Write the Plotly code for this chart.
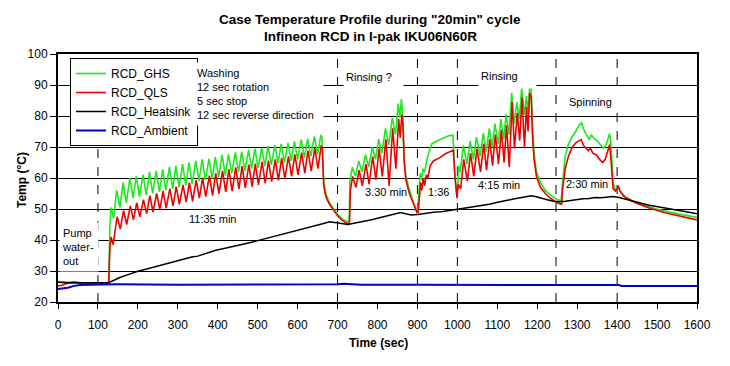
import plotly.graph_objects as go

# ---------------- data ----------------
ghs_t = [0, 20, 50, 100, 127, 130, 133, 139, 147, 155, 163, 171, 180, 188, 196, 204, 213, 221, 229, 237, 246, 254, 262,
         270, 279, 287, 295, 303, 312, 320, 328, 336, 345, 353, 361, 369, 378, 386, 394, 402, 411, 419, 427, 435, 444,
         452, 460, 468, 477, 485, 493, 501, 510, 518, 526, 534, 543, 551, 559, 567, 576, 584, 592, 600, 609, 617, 625,
         633, 642, 650, 658, 661, 665, 668, 672, 680, 690, 700, 712, 725, 729, 731, 737, 745, 753, 761, 770, 778, 787,
         795, 803, 811, 820, 828, 837, 845, 852, 856, 860, 863, 866, 870, 878, 888, 898, 901, 904, 907, 910, 914, 918,
         923, 929, 936, 950, 965, 978, 989, 991, 994, 998, 1001, 1003, 1007, 1015, 1024, 1032, 1040, 1048, 1057, 1065,
         1072, 1080, 1087, 1094, 1102, 1109, 1116, 1122, 1129, 1136, 1142, 1149, 1155, 1161, 1168, 1173, 1177, 1181,
         1185, 1188, 1192, 1198, 1208, 1220, 1235, 1250, 1260, 1263, 1266, 1270, 1277, 1286, 1296, 1305, 1311, 1317,
         1323, 1330, 1336, 1342, 1350, 1358, 1366, 1372, 1377, 1381, 1384, 1387, 1390, 1395, 1400, 1404, 1410, 1420,
         1440, 1460, 1500, 1550, 1600]
ghs_v = [26.6, 26.4, 26.1, 26.0, 26.2, 45.0, 50.5, 47.0, 56.0, 50.5, 58.5, 52.0, 60.0, 53.5, 60.5, 54.0, 61.0, 54.5, 62.0,
         55.0, 62.3, 55.5, 62.8, 56.0, 63.5, 56.5, 63.8, 57.0, 64.5, 57.5, 65.0, 58.0, 65.5, 59.0, 66.0, 59.3, 66.2, 59.8,
         66.8, 60.2, 67.5, 60.8, 67.6, 61.5, 68.3, 62.0, 68.5, 62.2, 69.0, 63.0, 69.5, 63.3, 69.8, 63.8, 70.3, 64.2, 70.6,
         64.8, 71.0, 65.0, 71.3, 65.5, 71.8, 66.0, 72.4, 66.5, 72.6, 67.0, 73.4, 67.6, 73.8, 73.0, 60.0, 57.0, 54.5, 52.0,
         50.0, 48.3, 46.8, 45.9, 45.6, 59.0, 63.5, 60.5, 65.5, 62.0, 67.5, 63.5, 70.0, 66.0, 72.5, 68.0, 76.0, 70.5, 79.5,
         74.0, 84.0, 79.5, 85.5, 80.0, 68.0, 61.5, 57.0, 53.0, 49.5, 49.8, 57.0, 61.5, 59.5, 63.0, 61.8, 65.5, 68.5, 71.0,
         72.0, 73.0, 73.6, 73.8, 68.0, 60.0, 55.5, 56.5, 64.0, 62.0, 70.5, 64.5, 72.0, 66.0, 73.2, 67.0, 74.5, 68.5, 76.0,
         70.0, 77.5, 71.0, 79.0, 72.5, 80.5, 74.0, 87.5, 77.5, 84.5, 79.0, 89.0, 80.5, 86.5, 81.0, 89.3, 88.5, 77.0, 68.0,
         62.0, 58.5, 56.0, 54.3, 53.0, 52.7, 58.0, 63.0, 67.0, 70.5, 73.0, 75.0, 77.0, 77.8, 75.5, 74.0, 72.5, 73.8, 72.8,
         72.0, 70.8, 69.6, 70.5, 72.8, 74.3, 72.0, 63.0, 58.5, 56.5, 56.3, 57.0, 55.3, 54.0, 52.6, 51.6, 49.9, 48.5, 47.3]

qls_t = [0, 10, 25, 40, 60, 100, 127, 130, 133, 138, 148, 156, 164, 172, 181, 189, 197, 205, 214, 222, 230, 238, 247, 255,
         263, 271, 280, 288, 296, 304, 313, 321, 329, 337, 346, 354, 362, 370, 379, 387, 395, 403, 412, 420, 428, 436,
         445, 453, 461, 469, 478, 486, 494, 502, 511, 519, 527, 535, 544, 552, 560, 568, 577, 585, 593, 601, 610, 618,
         626, 634, 643, 651, 659, 662, 665, 668, 672, 680, 690, 700, 712, 727, 730, 732, 738, 746, 754, 762, 771, 779,
         788, 796, 804, 812, 821, 829, 838, 846, 853, 857, 861, 864, 867, 871, 879, 889, 899, 902, 905, 908, 911, 914,
         918, 922, 926, 932, 940, 955, 970, 985, 990, 993, 996, 999, 1002, 1008, 1016, 1025, 1033, 1041, 1049, 1058,
         1066, 1073, 1081, 1088, 1095, 1103, 1110, 1117, 1123, 1130, 1137, 1143, 1150, 1156, 1162, 1168, 1173, 1177,
         1181, 1185, 1188, 1192, 1198, 1208, 1220, 1235, 1250, 1261, 1263, 1266, 1270, 1278, 1288, 1298, 1305, 1310,
         1316, 1322, 1328, 1333, 1339, 1348, 1356, 1364, 1370, 1376, 1381, 1384, 1387, 1390, 1396, 1400, 1403, 1407,
         1415, 1430, 1450, 1480, 1520, 1560, 1600]
qls_v = [25.2, 25.4, 26.1, 26.4, 26.2, 26.0, 26.1, 38.0, 41.0, 38.5, 47.5, 43.5, 49.5, 45.0, 51.0, 46.5, 52.0, 47.5, 53.0,
         48.5, 54.3, 49.0, 55.0, 49.8, 55.8, 50.3, 56.6, 51.0, 57.2, 51.5, 57.8, 52.3, 58.5, 52.5, 59.3, 53.5, 60.0, 54.0,
         60.8, 54.3, 61.5, 55.0, 62.3, 55.5, 62.8, 55.8, 63.4, 56.5, 63.8, 56.8, 64.3, 57.2, 64.6, 57.8, 65.2, 58.3, 65.6,
         58.8, 66.0, 59.2, 66.5, 59.8, 67.0, 60.5, 67.6, 61.0, 68.2, 61.6, 68.8, 62.2, 69.6, 63.0, 70.5, 69.5, 58.0, 55.5,
         53.5, 51.5, 49.6, 47.8, 46.3, 45.0, 46.0, 56.0, 60.5, 57.0, 62.5, 57.5, 64.5, 58.0, 67.0, 59.5, 69.5, 60.5, 72.5,
         57.5, 76.0, 63.0, 79.0, 73.0, 80.5, 77.0, 65.0, 59.5, 55.3, 51.8, 48.8, 49.0, 55.0, 58.5, 56.0, 60.0, 57.5, 61.0,
         60.0, 64.0, 65.5, 66.5, 67.8, 68.8, 69.0, 62.0, 56.0, 53.5, 58.0, 56.5, 66.0, 59.0, 68.0, 60.5, 69.5, 62.0, 71.0,
         62.5, 72.5, 64.0, 74.0, 64.5, 75.5, 65.0, 77.0, 63.5, 84.5, 69.5, 81.0, 72.0, 86.0, 70.0, 83.0, 75.0, 87.5, 86.0,
         74.0, 66.0, 60.5, 57.0, 55.0, 53.3, 52.0, 51.5, 56.0, 60.0, 63.0, 67.0, 70.0, 71.5, 72.0, 72.4, 70.5, 69.5, 68.8,
         69.6, 68.0, 67.5, 66.0, 65.0, 66.0, 68.5, 70.8, 67.0, 60.0, 56.5, 55.8, 56.5, 57.5, 55.8, 54.3, 53.0, 51.8, 50.3,
         48.8, 47.6, 46.5]

hs_t = [0, 20, 40, 60, 80, 100, 120, 128, 140, 155, 170, 185, 200, 215, 230, 245, 260, 275, 290, 305, 320, 335, 350, 365,
        380, 395, 410, 425, 440, 455, 470, 485, 500, 515, 530, 545, 560, 575, 590, 605, 620, 635, 650, 665, 680, 695, 710,
        725, 740, 755, 770, 785, 800, 815, 830, 845, 858, 870, 885, 900, 915, 930, 945, 960, 975, 990, 1005, 1020, 1035,
        1050, 1065, 1080, 1095, 1110, 1125, 1140, 1155, 1170, 1185, 1195, 1210, 1225, 1240, 1255, 1270, 1285, 1300, 1315,
        1330, 1345, 1360, 1375, 1390, 1405, 1420, 1435, 1450, 1465, 1480, 1495, 1510, 1525, 1540, 1555, 1570, 1585, 1600]
hs_v = [26.4, 26.2, 26.3, 26.1, 26.2, 26.1, 26.2, 26.3, 27.1, 27.9, 28.6, 29.3, 29.9, 30.4, 30.9, 31.5, 31.9, 32.5, 32.9,
        33.6, 33.9, 34.5, 34.8, 35.5, 36.0, 36.7, 37.1, 37.5, 38.0, 38.4, 38.9, 39.3, 39.8, 40.3, 40.7, 41.3, 41.6, 42.1,
        42.6, 43.1, 43.6, 44.2, 44.8, 45.3, 45.9, 45.7, 45.3, 45.0, 45.3, 45.6, 46.1, 46.5, 47.0, 47.4, 47.9, 48.5, 48.9,
        48.5, 48.1, 48.2, 48.5, 48.6, 49.0, 49.1, 49.4, 49.6, 49.9, 50.1, 50.5, 50.8, 51.2, 51.5, 52.0, 52.3, 52.8, 53.2,
        53.6, 53.9, 54.3, 54.0, 53.6, 53.0, 52.5, 52.3, 52.5, 52.8, 53.1, 53.3, 53.4, 53.7, 53.6, 53.9, 54.0, 53.7, 53.2,
        52.6, 52.1, 51.7, 51.2, 50.9, 50.5, 50.1, 49.8, 49.5, 49.2, 48.8, 48.5]

amb_t = [0, 10, 25, 40, 55, 80, 150, 300, 450, 600, 700, 715, 735, 760, 900, 1000, 1150, 1300, 1405, 1410, 1600]
amb_v = [24.2, 24.3, 24.6, 25.2, 25.5, 25.6, 25.7, 25.6, 25.6, 25.6, 25.7, 25.9, 25.8, 25.6, 25.6, 25.5, 25.5, 25.5,
         25.5, 25.2, 25.2]

series_names = ["RCD_GHS", "RCD_QLS", "RCD_Heatsink", "RCD_Ambient"]
series_colors = ["#1ee81e", "#ee0000", "#000000", "#0000d0"]
phase_bounds = [100, 700, 900, 1000, 1247, 1400]

# ---------------- figure ----------------
FONT = "Liberation Sans, Arial, sans-serif"
OFF = 8  # page body margin of the browser
W, H = 730 - OFF, 366 - OFF
ML, MR, MT, MB = 58 - OFF, 33, 54 - OFF, 64
PW, PH = W - ML - MR, H - MT - MB


def px_paper_x(px):  # screenshot pixel -> paper x
    return (px - OFF - ML) / PW


def px_paper_y(py):  # screenshot pixel -> paper y
    return (MT + PH - (py - OFF)) / PH


def dx(px):
    return px_paper_x(px) * 1600


def dy(py):
    return 20 + px_paper_y(py) * 80


fig = go.Figure()
for t, v, name, col, w in zip([ghs_t, qls_t, hs_t, amb_t], [ghs_v, qls_v, hs_v, amb_v],
                              series_names, series_colors, [1.6, 1.6, 1.5, 2.0]):
    fig.add_trace(go.Scatter(x=t, y=v, mode="lines", name=name, line=dict(color=col, width=w)))

for xb in phase_bounds:
    fig.add_shape(type="line", x0=xb, x1=xb, y0=20, y1=100, xref="x", yref="y",
                  line=dict(color="black", width=1, dash="dash"), layer="below")

ann = []
# title
ann.append(dict(text="<b>Case Temperature Profile during \"20min\" cycle</b>", x=px_paper_x(370), y=px_paper_y(19),
                xref="paper", yref="paper", showarrow=False, font=dict(size=13.5), xanchor="center", yanchor="middle"))
ann.append(dict(text="<b>Infineon RCD in I-pak IKU06N60R</b>", x=px_paper_x(370), y=px_paper_y(37),
                xref="paper", yref="paper", showarrow=False, font=dict(size=13.5), xanchor="center", yanchor="middle"))
# axis titles
ann.append(dict(text="<b>Temp (°C)</b>", x=px_paper_x(22), y=px_paper_y(180), xref="paper", yref="paper",
                showarrow=False, textangle=-90, font=dict(size=12), xanchor="center", yanchor="middle"))
ann.append(dict(text="<b>Time (sec)</b>", x=px_paper_x(378), y=px_paper_y(343), xref="paper", yref="paper",
                showarrow=False, font=dict(size=12), xanchor="center", yanchor="middle"))

# boxed labels (white background)
boxed = [
    ("Washing<br>12 sec rotation<br>5 sec stop<br>12 sec reverse direction", 194, 62, 124, 58),
    ("Rinsing ?", 343, 62, 55, 24),
    ("Rinsing", 478, 62, 53, 21),
    ("Spinning", 566, 92, 50, 14),
    ("Pump<br>water-<br>out", 59, 222, 34, 44),
]
for txt, px, py, w, h in boxed:
    ann.append(dict(text=txt, x=dx(px), y=dy(py), xref="x", yref="y", showarrow=False, xanchor="left",
                    yanchor="top", align="left", valign="middle", width=w, height=h, bgcolor="white",
                    borderpad=2, font=dict(size=11)))

plain = [("11:35 min", 213, 219), ("3.30 min", 386, 192), ("1:36", 438, 192), ("4:15 min", 499, 185),
         ("2:30 min", 587, 184)]
for txt, px, py in plain:
    ann.append(dict(text=txt, x=dx(px), y=dy(py), xref="x", yref="y", showarrow=False, xanchor="center",
                    yanchor="middle", font=dict(size=11)))

fig.update_layout(
    width=W, height=H,
    margin=dict(l=ML, r=MR, t=MT, b=MB, autoexpand=False),
    paper_bgcolor="white", plot_bgcolor="white",
    font=dict(family=FONT, color="black", size=12),
    annotations=ann,
    legend=dict(x=px_paper_x(70), y=px_paper_y(58), xanchor="left", yanchor="top",
                bgcolor="white", bordercolor="black", borderwidth=1, font=dict(size=12),
                itemwidth=30, tracegroupgap=0),
    showlegend=True,
)
fig.update_xaxes(range=[0, 1600], dtick=100, tick0=0, ticks="outside", ticklen=5, tickwidth=1, tickcolor="black",
                 showline=True, linecolor="black", linewidth=2, mirror=True, showgrid=False, zeroline=False,
                 tickfont=dict(size=12), ticklabelstandoff=6)
fig.update_yaxes(range=[20, 100], dtick=10, tick0=20, ticks="outside", ticklen=6, tickwidth=1, tickcolor="black",
                 showline=True, linecolor="black", linewidth=2, mirror=True, showgrid=True, gridcolor="black",
                 gridwidth=1, zeroline=False, tickfont=dict(size=12))

fig.write_html("out.html")
